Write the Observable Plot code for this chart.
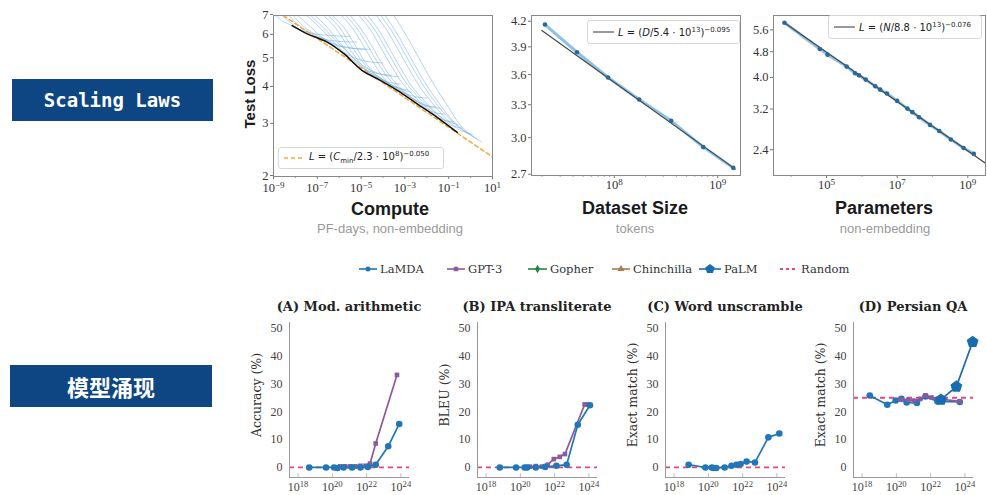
<!DOCTYPE html>
<html><head><meta charset="utf-8">
<script src="https://cdn.jsdelivr.net/npm/d3@7"></script>
<script src="https://cdn.jsdelivr.net/npm/@observablehq/plot@0.6"></script>
<style>
body{margin:0;background:#fff;}
#root{position:relative;width:987px;height:495px;overflow:hidden;background:#fff;}
.c{position:absolute;transform:translate(-50%,-50%);white-space:nowrap;}
.box{position:absolute;background:#0d4682;color:#fff;display:flex;align-items:center;justify-content:center;font-weight:bold;}
.fleg{position:absolute;border:1px solid #d8d8d8;border-radius:3px;background:#fff;display:flex;align-items:center;font-family:"DejaVu Sans";font-size:10px;color:#222;white-space:nowrap;}
.fleg sup,.fleg sub{font-size:7px;}
</style></head><body><div id="root"></div>
<script>
// ---------- DATA ----------
// Panel 1: learning curves (log10 compute, test loss)
const computeCurves = [
 [[-8.9,7],[-8.6,6.7],[-8.2,6.5],[-7.6,6.2],[-7,6.05],[-6.2,5.98],[-5.5,5.95]],
 [[-8.6,7],[-8.2,6.6],[-7.7,6.2],[-7.2,5.98],[-6.6,5.8],[-5.9,5.72],[-5.2,5.69]],
 [[-8.3,7],[-7.9,6.55],[-7.4,6.15],[-6.9,5.88],[-6.3,5.6],[-5.7,5.45],[-4.8,5.38]],
 [[-8.1,7],[-7.7,6.5],[-7.2,6.1],[-6.6,5.8],[-6.0,5.55],[-5.3,5.42],[-4.6,5.38]],
 [[-7.9,7],[-7.4,6.5],[-6.9,6.0],[-6.3,5.6],[-5.8,5.26],[-5.2,5.0],[-4.6,4.88],[-4,4.84]],
 [[-7.5,7],[-7.0,6.5],[-6.4,5.85],[-5.9,5.35],[-5.3,4.9],[-4.8,4.6],[-4.2,4.45],[-3.6,4.4]],
 [[-7.3,7],[-6.8,6.45],[-6.2,5.8],[-5.6,5.25],[-5.1,4.85],[-4.5,4.55],[-3.8,4.38],[-3.3,4.35]],
 [[-7.1,7],[-6.6,6.45],[-6.0,5.7],[-5.5,5.15],[-5.0,4.72],[-4.5,4.42],[-3.9,4.2],[-3.2,4.1]],
 [[-6.7,7],[-6.2,6.4],[-5.7,5.65],[-5.2,5.0],[-4.7,4.55],[-4.2,4.32],[-3.6,4.06],[-2.9,3.92]],
 [[-6.5,7],[-6.0,6.4],[-5.5,5.6],[-5.0,4.95],[-4.5,4.5],[-4.0,4.26],[-3.4,4.0],[-2.7,3.85]],
 [[-6.3,7],[-5.8,6.4],[-5.3,5.6],[-4.8,4.85],[-4.3,4.4],[-3.8,4.15],[-3.2,3.88],[-2.5,3.72],[-2.0,3.68]],
 [[-5.9,7],[-5.4,6.35],[-4.9,5.55],[-4.4,4.8],[-3.9,4.25],[-3.4,3.98],[-2.8,3.72],[-2.1,3.48],[-1.6,3.44]],
 [[-5.7,7],[-5.2,6.35],[-4.7,5.55],[-4.2,4.8],[-3.7,4.25],[-3.2,3.92],[-2.6,3.66],[-1.9,3.45],[-1.4,3.4]],
 [[-5.5,7],[-5.0,6.3],[-4.5,5.5],[-4.0,4.75],[-3.5,4.2],[-3.0,3.85],[-2.4,3.56],[-1.7,3.3],[-1.2,3.25]],
 [[-5.1,7],[-4.6,6.3],[-4.1,5.45],[-3.6,4.7],[-3.1,4.12],[-2.6,3.75],[-2.0,3.42],[-1.3,3.12],[-0.8,3.06]],
 [[-4.9,7],[-4.4,6.3],[-3.9,5.45],[-3.4,4.7],[-2.9,4.1],[-2.4,3.72],[-1.8,3.38],[-1.1,3.08],[-0.6,3.0]],
 [[-4.7,7],[-4.2,6.25],[-3.7,5.4],[-3.2,4.65],[-2.7,4.05],[-2.2,3.66],[-1.6,3.3],[-0.9,2.98],[-0.4,2.92]],
 [[-4.3,7],[-3.8,6.2],[-3.3,5.35],[-2.8,4.6],[-2.3,4.0],[-1.8,3.58],[-1.2,3.18],[-0.6,2.9],[0,2.78]],
 [[-4.1,7],[-3.6,6.2],[-3.1,5.35],[-2.6,4.6],[-2.1,4.0],[-1.6,3.55],[-1.0,3.15],[-0.4,2.88],[0.1,2.76]],
 [[-3.9,7],[-3.4,6.15],[-2.9,5.3],[-2.4,4.55],[-1.9,3.95],[-1.4,3.5],[-0.8,3.08],[-0.3,2.86],[0.3,2.68]],
 [[-3.5,7],[-3.0,6.1],[-2.5,5.25],[-2.0,4.5],[-1.5,3.9],[-1.0,3.42],[-0.5,3.0],[0,2.76],[0.5,2.62]]
];
const frontierC = [-8.15,-7.46,-6.55,-5.79,-4.95,-4.26,-3.35,-2.44,-1.53,-0.61];
const frontierL = [6.47,6.07,5.69,5.20,4.56,4.28,3.91,3.52,3.17,2.82];
const computeFitC = [-8.55, 1];
const computeFitL = [7, 2.33];

// Panel 2: dataset size (log10 tokens)
const dataD = [7.33,7.64,7.94,8.24,8.55,8.86,9.15];
const dataL = [4.16,3.84,3.57,3.35,3.15,2.92,2.75];
const dataFitD = [7.3, 9.17];
const dataFitL = [4.09, 2.74];

// Panel 3: parameters (log10 N)
const paramN = [3.81,4.81,5.03,5.57,5.81,5.92,6.11,6.38,6.52,6.71,7.0,7.29,7.43,7.62,7.93,8.19,8.52,8.88,9.17];
const paramL = [5.89,4.89,4.70,4.32,4.12,4.06,3.94,3.76,3.67,3.57,3.39,3.21,3.13,3.02,2.86,2.74,2.58,2.43,2.33];
const paramFitN = [3.8, 9.5];
const paramFitL = [5.9, 2.18];

// Emergence panels (log10 training FLOPs, metric %)
const A_lamdaX = [18.65,19.63,20.1,20.3,20.65,21.15,21.64,22.07,22.53,23.26,23.9];
const A_lamdaY = [0,0,0,-0.2,0,0,0,0.2,1,7.6,15.6];
const A_gpt3X = [20.46,20.75,21.05,21.35,21.64,21.94,22.2,22.53,23.77];
const A_gpt3Y = [0.4,0.4,0.4,0.4,0.6,0.6,1.4,8.6,33.2];

const B_lamdaX = [18.8,19.75,20.25,20.4,20.9,21.45,22.1,22.7,23.35,24.06];
const B_lamdaY = [0,0,0,0,0,0.2,0.6,1,15.3,22.3];
const B_gpt3X = [20.55,20.9,21.25,21.6,21.95,22.3,22.6,23.75,23.9];
const B_gpt3Y = [0.3,0.5,0.3,1,3,3.8,4.8,22.6,22.6];

const C_lamdaX = [18.85,19.83,20.2,20.3,20.46,20.95,21.35,21.64,21.88,22.23,22.72,23.5,24.14];
const C_lamdaY = [1.0,0,0,-0.2,-0.2,0,0.6,1,1.2,2.1,1.8,10.8,12.2];

const D_lamdaX = [18.45,19.47,19.96,20.3,20.6,21.2,21.7,22.4,23.7];
const D_lamdaY = [25.8,22.5,24.0,24.6,23.3,23.1,25.5,23.7,23.5];
const D_gpt3X = [20.25,20.7,21.0,21.4,21.7,22.05,22.45,23.7];
const D_gpt3Y = [24.3,24.3,24.0,24.6,25.8,25.1,24.6,23.7];
const D_palmX = [22.6,23.5,24.45];
const D_palmY = [24.3,29.0,45.0];

const randomA = 0, randomB = 0, randomC = 0, randomD = 25;

const legendNames = ["LaMDA","GPT-3","Gopher","Chinchilla","PaLM","Random"];
const panelTitles = ["(A) Mod. arithmetic","(B) IPA transliterate","(C) Word unscramble","(D) Persian QA"];
const panelYLabels = ["Accuracy (%)","BLEU (%)","Exact match (%)","Exact match (%)"];
const emergTicksX = [18,20,22,24];
const emergTicksY = [0,10,20,30,40,50];

// ---------- helpers ----------
const root = document.getElementById("root");
const pow10 = d => "10^" + String(d).replace("-", "−");
function supify(svg){
  svg.querySelectorAll("text").forEach(t => {
    const s = t.textContent;
    if (s.includes("^")) {
      const [b, e] = s.split("^");
      t.textContent = b;
      const ts = document.createElementNS("http://www.w3.org/2000/svg", "tspan");
      ts.setAttribute("dy", "-0.45em"); ts.setAttribute("font-size", "0.72em");
      ts.textContent = e; t.appendChild(ts);
    }
  });
  return svg;
}
function put(el, left, top){ el.style.position="absolute"; el.style.left=left+"px"; el.style.top=top+"px"; root.appendChild(el); return el; }
function ctext(html, x, y, style){ const d=document.createElement("div"); d.className="c"; d.innerHTML=html; Object.assign(d.style, style||{}); d.style.left=x+"px"; d.style.top=y+"px"; root.appendChild(d); return d; }
const pairs = (xs, ys) => xs.map((x,i)=>({x, y: ys[i]}));
function minorLog(lo, hi){ const t=[]; for(let e=Math.floor(lo); e<=Math.ceil(hi); e++) for(let k=2;k<=9;k++){const v=e+Math.log10(k); if(v>=lo&&v<=hi) t.push(v);} return t; }

const COL = {lamda:"#2176b8", gpt3:"#8a5a9c", gopher:"#1f8a3e", chin:"#a97c50", palm:"#1a6cb0", random:"#e4477c"};
const pentagon = { draw(ctx, size){ const r=Math.sqrt(size/Math.PI)*1.25; for(let k=0;k<5;k++){ const a=-Math.PI/2+k*2*Math.PI/5; const px=r*Math.cos(a), py=r*Math.sin(a); k?ctx.lineTo(px,py):ctx.moveTo(px,py);} ctx.closePath(); } };

// ---------- left labels ----------
const b1=document.createElement("div"); b1.className="box"; Object.assign(b1.style,{width:"201px",height:"42px",fontFamily:"'DejaVu Sans Mono'",fontSize:"19px"}); b1.textContent="Scaling Laws"; put(b1,12,79);
const b2=document.createElement("div"); b2.className="box"; Object.assign(b2.style,{width:"202px",height:"42px",fontFamily:"'Noto Sans CJK SC'",fontSize:"22px"}); b2.textContent="模型涌现"; put(b2,10,365);

// ---------- top panel common ----------
const topStyle = {fontFamily:"'Liberation Serif'", fontSize:"12.5px", color:"#333", background:"transparent", overflow:"visible"};

// Panel 1: Compute
const curveRows = computeCurves.flatMap((c,i)=>c.map(([x,y])=>({x,y,i})));
const p1 = Plot.plot({
  width:274, height:196, marginLeft:50, marginRight:5, marginTop:15, marginBottom:20,
  style: topStyle,
  x:{domain:[-9,1]}, y:{type:"log", domain:[2,7]},
  marks:[
    Plot.axisX({ticks:[-9,-7,-5,-3,-1,1], tickFormat:pow10, tickSize:3, tickPadding:4, label:null, stroke:"#777"}),
    Plot.axisX({ticks:[-8,-6,-4,-2,0], tickFormat:()=>"", tickSize:2, label:null, stroke:"#999"}),
    Plot.axisY({ticks:[2,3,4,5,6,7], tickFormat:d=>String(d), tickSize:3, tickPadding:2, label:null, stroke:"#777", dy:-1}),
    Plot.line(curveRows, {x:"x", y:"y", z:"i", stroke:"#6aa8dc", strokeOpacity:0.5, strokeWidth:1, curve:"catmull-rom", clip:true}),
    Plot.line(pairs(computeFitC, computeFitL), {x:"x", y:"y", stroke:"#f2a93b", strokeWidth:1.5, strokeDasharray:"4,3", clip:true}),
    Plot.line(pairs(frontierC, frontierL), {x:"x", y:"y", stroke:"#111", strokeWidth:1.5, curve:"catmull-rom"}),
    Plot.frame({stroke:"#888"})
  ]
});
put(supify(p1), 223, 0);

// Panel 2: Dataset size
const p2 = Plot.plot({
  width:254, height:195, marginLeft:40, marginRight:5, marginTop:15, marginBottom:20,
  style: topStyle,
  x:{domain:[7.2,9.22]}, y:{type:"log", domain:[2.69,4.27]},
  marks:[
    Plot.axisX({ticks:[8,9], tickFormat:pow10, tickSize:3, tickPadding:2, label:null, stroke:"#777"}),
    Plot.axisX({ticks:minorLog(7.2,9.22), tickFormat:()=>"", tickSize:2, label:null, stroke:"#aaa"}),
    Plot.axisY({ticks:[2.7,3.0,3.3,3.6,3.9,4.2], tickFormat:d3.format(".1f"), tickSize:3, tickPadding:2, label:null, stroke:"#777"}),
    Plot.line(pairs(dataD, dataL), {x:"x", y:"y", stroke:"#8cc2ea", strokeWidth:3}),
    Plot.line(pairs(dataFitD, dataFitL), {x:"x", y:"y", stroke:"#444", strokeWidth:1.2}),
    Plot.dot(pairs(dataD, dataL), {x:"x", y:"y", r:2.3, fill:"#2c6897"}),
    Plot.frame({stroke:"#888"})
  ]
});
put(supify(p2), 491, 0);

// Panel 3: Parameters
const p3 = Plot.plot({
  width:249, height:195, marginLeft:35, marginRight:2, marginTop:15, marginBottom:20,
  style: topStyle,
  x:{domain:[3.5,9.5]}, y:{type:"log", domain:[2.0,6.2]},
  marks:[
    Plot.axisX({ticks:[5,7,9], tickFormat:pow10, tickSize:3, tickPadding:2, label:null, stroke:"#777"}),
    Plot.axisX({ticks:[4,6,8], tickFormat:()=>"", tickSize:2, label:null, stroke:"#aaa"}),
    Plot.axisY({ticks:[2.4,3.2,4.0,4.8,5.6], tickFormat:d3.format(".1f"), tickSize:3, tickPadding:2, label:null, stroke:"#777"}),
    Plot.line(pairs(paramN, paramL), {x:"x", y:"y", stroke:"#8cc2ea", strokeWidth:3}),
    Plot.line(pairs(paramFitN, paramFitL), {x:"x", y:"y", stroke:"#444", strokeWidth:1.2}),
    Plot.dot(pairs(paramN, paramL), {x:"x", y:"y", r:2.3, fill:"#2c6897"}),
    Plot.frame({stroke:"#888"})
  ]
});
put(supify(p3), 738, 0);

// Top axis titles
const ttl = {fontFamily:"'Liberation Sans'", fontWeight:"bold", fontSize:"18px", color:"#1a1a1a"};
const sub = {fontFamily:"'Liberation Sans'", fontSize:"13px", color:"#9a9a9a"};
ctext("Compute", 390, 209, ttl); ctext("PF-days, non-embedding", 390, 228, sub);
ctext("Dataset Size", 635, 208, ttl); ctext("tokens", 635, 228, sub);
ctext("Parameters", 884, 208, ttl); ctext("non-embedding", 885, 228, sub);
const tl = ctext("Test Loss", 249, 94, {fontFamily:"'Liberation Sans'", fontWeight:"bold", fontSize:"15px", color:"#1a1a1a"});
tl.style.transform = "translate(-50%,-50%) rotate(-90deg)";

// formula legends
function fleg(left, top, w, h, lineStyle, html){
  const d=document.createElement("div"); d.className="fleg"; d.style.width=w+"px"; d.style.height=h+"px";
  d.innerHTML = `<svg width="30" height="${h}" style="flex:none"><line x1="5" x2="26" y1="${h/2}" y2="${h/2}" ${lineStyle}/></svg><span>${html}</span>`;
  put(d, left, top);
}
fleg(278,147,164,20,'stroke="#f2a93b" stroke-width="1.5" stroke-dasharray="4,3"', '<i>L</i> = (<i>C</i><sub>min</sub>/2.3 · 10<sup>8</sup>)<sup>−0.050</sup>');
fleg(587,20,151,22,'stroke="#555" stroke-width="1.2"', '<i>L</i> = (<i>D</i>/5.4 · 10<sup>13</sup>)<sup>−0.095</sup>');
fleg(828,15,152,22,'stroke="#555" stroke-width="1.2"', '<i>L</i> = (<i>N</i>/8.8 · 10<sup>13</sup>)<sup>−0.076</sup>');

// ---------- legend row ----------
const legSvg = d3.create("svg").attr("width",987).attr("height",24).style("position","absolute").style("left","0px").style("top","257px");
const legItems = [
  {name:legendNames[0], x0:359, x1:377, color:COL.lamda, sym:d3.symbolCircle, size:20},
  {name:legendNames[1], x0:447, x1:465, color:COL.gpt3, sym:d3.symbolSquare, size:20},
  {name:legendNames[2], x0:528, x1:547, color:COL.gopher, sym:d3.symbolDiamond, size:22},
  {name:legendNames[3], x0:612, x1:630, color:COL.chin, sym:d3.symbolTriangle, size:22},
  {name:legendNames[4], x0:699, x1:721, color:COL.palm, sym:pentagon, size:50},
  {name:legendNames[5], x0:780, x1:798, color:COL.random, dash:true}
];
for(const it of legItems){
  const cy=12;
  legSvg.append("line").attr("x1",it.x0).attr("x2",it.x1).attr("y1",cy).attr("y2",cy).attr("stroke",it.color).attr("stroke-width",it.dash?1.8:1.6).attr("stroke-dasharray",it.dash?"3,3":null);
  if(!it.dash) legSvg.append("path").attr("d",d3.symbol(it.sym,it.size)()).attr("transform",`translate(${(it.x0+it.x1)/2},${cy})`).attr("fill",it.color);
  legSvg.append("text").attr("x",it.x1+3).attr("y",cy).attr("dy","0.35em").attr("font-family","DejaVu Serif").attr("font-size","11.5px").attr("fill","#333").text(it.name);
}
root.appendChild(legSvg.node());

// ---------- emergence panels ----------
function emerg(axisX, title, ylab, series, randomLevel){
  const marks = [
    Plot.ruleY([randomLevel], {stroke:COL.random, strokeWidth:1.8, strokeDasharray:"5,4"}),
    Plot.ruleX([17.5], {stroke:"#999"}),
    Plot.ruleY([-3.6], {stroke:"#999"}),
    Plot.ruleX(emergTicksX, {x:d=>d, y1:-3.6, y2:-2.2, stroke:"#bbb"}),
    Plot.axisY({ticks:emergTicksY, tickSize:0, tickPadding:7, label:null}),
    Plot.axisX({ticks:emergTicksX, tickFormat:pow10, tickSize:0, tickPadding:5, label:null})
  ];
  for(const s of series){
    const data = pairs(s.x, s.y);
    marks.push(Plot.line(data, {x:"x", y:"y", stroke:s.color, strokeWidth:1.7}));
    marks.push(Plot.dot(data, {x:"x", y:"y", r:s.r, fill:s.color, symbol:s.symbol}));
  }
  const p = Plot.plot({
    width:168, height:195, marginLeft:40, marginRight:8, marginTop:22, marginBottom:18,
    style:{fontFamily:"'Liberation Serif'", fontSize:"12px", color:"#444", background:"transparent", overflow:"visible"},
    x:{domain:[17.5,24.5]}, y:{domain:[-3.6,52]},
    marks
  });
  put(supify(p), axisX-40, 300);
  ctext(title, axisX+60, 306, {fontFamily:"'DejaVu Serif'", fontWeight:"bold", fontSize:"13px", color:"#222"});
  const yl = ctext(ylab, axisX-33, 395, {fontFamily:"'DejaVu Serif'", fontSize:"12.5px", color:"#333"});
  yl.style.transform = "translate(-50%,-50%) rotate(-90deg)";
}
const L = (x,y)=>({x,y,color:COL.lamda,r:3.3,symbol:"circle"});
const G = (x,y)=>({x,y,color:COL.gpt3,r:2.6,symbol:"square"});
const P = (x,y)=>({x,y,color:COL.palm,r:5,symbol:pentagon});
emerg(289, panelTitles[0], panelYLabels[0], [G(A_gpt3X,A_gpt3Y), L(A_lamdaX,A_lamdaY)], randomA);
emerg(477, panelTitles[1], panelYLabels[1], [G(B_gpt3X,B_gpt3Y), L(B_lamdaX,B_lamdaY)], randomB);
emerg(665, panelTitles[2], panelYLabels[2], [L(C_lamdaX,C_lamdaY)], randomC);
emerg(853, panelTitles[3], panelYLabels[3], [L(D_lamdaX,D_lamdaY), G(D_gpt3X,D_gpt3Y), P(D_palmX,D_palmY)], randomD);
</script></body></html>
